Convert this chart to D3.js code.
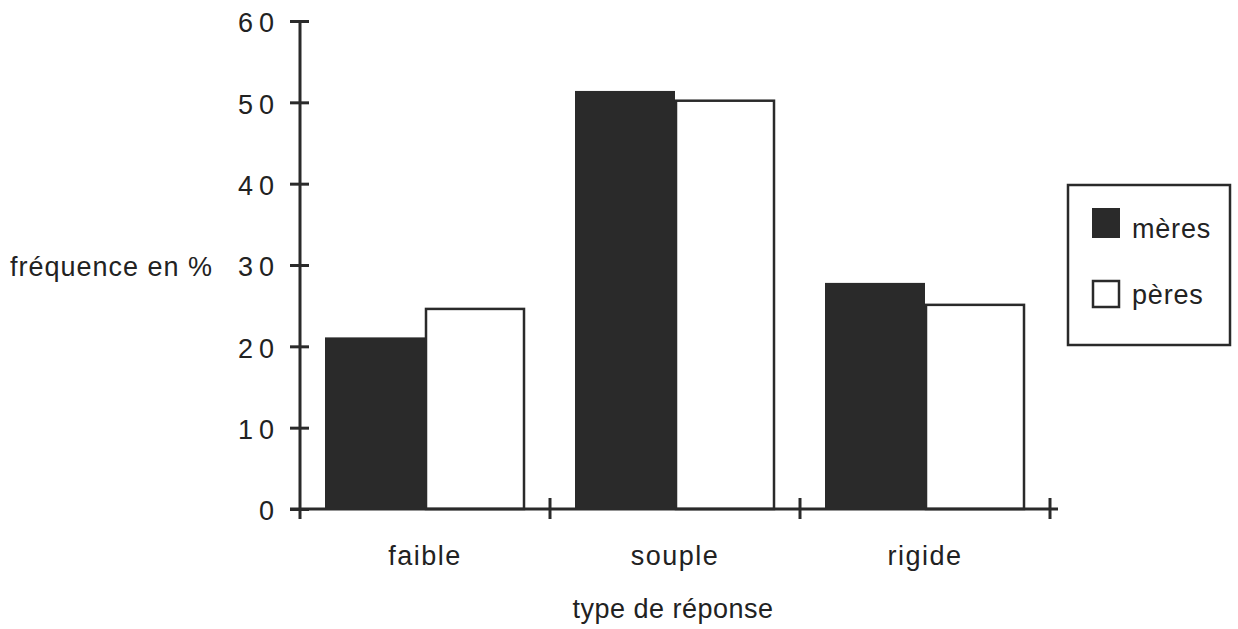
<!DOCTYPE html>
<html><head><meta charset="utf-8">
<script src="https://cdn.jsdelivr.net/npm/d3@7"></script>
<style>
body{margin:0;background:#fff;}
text{font-family:"Liberation Sans",Arial,sans-serif;fill:#222;}
</style></head>
<body><svg id="c" width="1238" height="629"></svg>
<script>
const categories = ["faible", "souple", "rigide"];
const seriesNames = ["mères", "pères"];
const meres = [21.1, 51.4, 27.8];
const peres = [24.6, 50.2, 25.1];
const yTicks = [0, 10, 20, 30, 40, 50, 60];
const yLabel = "fréquence en %";
const xLabel = "type de réponse";

const svg = d3.select("#c");
const dark = "#2a2a2a";
const fs = 27;

const x = d3.scaleBand().domain(categories).range([300, 1050]).paddingInner(0.2).paddingOuter(0.1);
const xs = d3.scaleBand().domain(seriesNames).range([0, x.bandwidth()]);
const y = d3.scaleLinear().domain([0, 60]).range([509, 21]);

// bars
const data = categories.map((c, i) => ({c, vals: [meres[i], peres[i]]}));
const g = svg.append("g");
data.forEach(d => {
  d.vals.forEach((v, j) => {
    const isM = j === 0;
    g.append("rect")
      .attr("x", x(d.c) + xs(seriesNames[j]) + (isM ? 0 : 1))
      .attr("y", y(v))
      .attr("width", xs.bandwidth() - (isM ? 0 : 2))
      .attr("height", y(0) - y(v))
      .attr("fill", isM ? dark : "#fff")
      .attr("stroke", dark)
      .attr("stroke-width", isM ? 0 : 2.5);
  });
});

// y axis
const ya = svg.append("g").attr("transform", "translate(300,0)")
  .call(d3.axisLeft(y).tickValues(yTicks).tickSize(10).tickPadding(10));
ya.select(".domain").remove();
ya.selectAll(".tick line").attr("x1", 9).attr("x2", -10).attr("stroke", dark).attr("stroke-width", 3);
ya.selectAll(".tick text").attr("font-size", fs).attr("letter-spacing", 6).attr("fill", "#222")
  .attr("dy", "0.4em")
  .attr("font-family", "Liberation Sans, Arial, sans-serif");
svg.append("line").attr("x1", 300).attr("x2", 300).attr("y1", y(60)).attr("y2", 519)
  .attr("stroke", dark).attr("stroke-width", 3);

// x axis
const xt = [x.range()[0]].concat(categories.map(c => x(c) + x.bandwidth() + x.step() * x.paddingOuter()));
svg.append("line").attr("x1", 290).attr("x2", 1058).attr("y1", y(0)).attr("y2", y(0))
  .attr("stroke", dark).attr("stroke-width", 3);
svg.selectAll(".xt").data(xt.slice(1)).enter().append("line")
  .attr("x1", d => d).attr("x2", d => d).attr("y1", y(0) - 11).attr("y2", y(0) + 10)
  .attr("stroke", dark).attr("stroke-width", 3);
svg.selectAll(".xl").data(categories).enter().append("text")
  .attr("x", d => x(d) + x.bandwidth() / 2).attr("y", 565)
  .attr("text-anchor", "middle").attr("font-size", fs).attr("letter-spacing", 1.5).text(d => d);

svg.append("text").attr("x", 673).attr("y", 618).attr("text-anchor", "middle")
  .attr("font-size", fs).attr("letter-spacing", 0.5).text(xLabel);
svg.append("text").attr("x", 10).attr("y", 276).attr("font-size", fs).attr("letter-spacing", 1).text(yLabel);

// legend
const lg = svg.append("g");
lg.append("rect").attr("x", 1068).attr("y", 185).attr("width", 162).attr("height", 160)
  .attr("fill", "#fff").attr("stroke", dark).attr("stroke-width", 2.5);
seriesNames.forEach((s, i) => {
  const yy = 208 + i * 72;
  lg.append("rect").attr("x", i === 0 ? 1092 : 1093).attr("y", i === 0 ? yy : yy + 1)
    .attr("width", i === 0 ? 28 : 26).attr("height", i === 0 ? 30 : 26)
    .attr("fill", i === 0 ? dark : "#fff").attr("stroke", dark).attr("stroke-width", i === 0 ? 0 : 2.5);
  lg.append("text").attr("x", 1132).attr("y", yy + 30 - (i === 1 ? 6 : 0)).attr("font-size", fs)
    .attr("letter-spacing", 0.8).text(s);
});
</script></body></html>
